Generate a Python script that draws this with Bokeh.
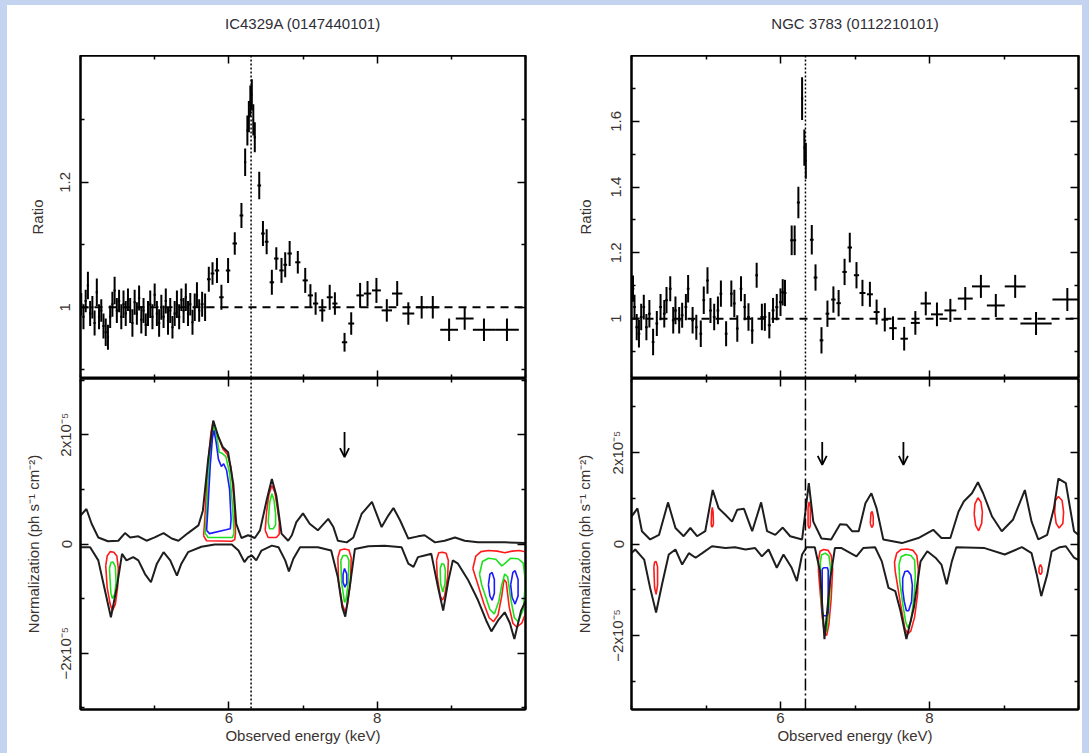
import numpy as np
from bokeh.plotting import figure
from bokeh.models import (FixedTicker, LinearAxis, Span, Arrow, OpenHead, Label,
                          ColumnDataSource, Range1d, CustomJSTickFormatter)
from bokeh.layouts import row, column
from bokeh.embed import file_html
from bokeh.resources import INLINE

# ---------------- data ----------------
titles = ["IC4329A (0147440101)", "NGC 3783 (0112210101)"]
line_energy = [6.30, 6.335]

# IC4329A ratio data
left_e = [4.01, 4.04, 4.07, 4.10, 4.13, 4.16, 4.19, 4.22, 4.25, 4.28, 4.31, 4.34, 4.37, 4.40, 4.43,
          4.46, 4.49, 4.52, 4.55, 4.58, 4.61, 4.64, 4.67, 4.70, 4.73, 4.76, 4.79, 4.82, 4.85, 4.88,
          4.91, 4.94, 4.97, 5.00, 5.03, 5.06, 5.09, 5.12, 5.15, 5.18, 5.21, 5.24, 5.27, 5.30, 5.33,
          5.36, 5.39, 5.42, 5.45, 5.48, 5.51, 5.54, 5.57, 5.60, 5.64, 5.68, 5.73, 5.78, 5.84, 5.90,
          5.99, 6.08, 6.17, 6.22, 6.25, 6.27, 6.29, 6.31, 6.33, 6.35, 6.41, 6.46, 6.51, 6.58, 6.64,
          6.71, 6.76, 6.82, 6.93, 7.03, 7.10, 7.17, 7.26, 7.36, 7.43, 7.56, 7.65, 7.77, 7.87, 7.99,
          8.13, 8.27, 8.42, 8.60, 8.75, 8.97, 9.18, 9.44, 9.75]
left_r = [1.005, 0.985, 1.010, 1.035, 0.990, 1.000, 0.975, 1.024, 0.985, 0.995, 0.970, 0.960, 0.952, 0.985, 1.005,
          1.027, 0.995, 1.010, 0.985, 1.005, 0.990, 1.012, 0.995, 0.975, 1.008, 0.990, 1.015, 0.980, 0.995, 0.972,
          0.990, 1.005, 0.985, 1.020, 0.990, 0.975, 1.000, 0.985, 1.010, 0.978, 0.995, 0.968, 0.990, 1.005, 0.985,
          1.012, 0.995, 1.016, 0.990, 1.005, 0.976, 1.000, 1.020, 0.995, 1.005, 1.000, 1.045, 1.054, 1.059, 1.016,
          1.059, 1.102, 1.147, 1.232, 1.283, 1.305, 1.330, 1.340, 1.300, 1.272, 1.195, 1.118, 1.105, 1.040, 1.078,
          1.059, 1.068, 1.086, 1.072, 1.043, 1.019, 1.006, 0.995, 1.016, 1.006, 0.944, 0.974, 1.019, 1.022, 1.027,
          0.995, 1.022, 0.990, 1.000, 1.000, 0.964, 0.982, 0.964, 0.964]
left_de = [0.015, 0.015, 0.015, 0.015, 0.015, 0.015, 0.015, 0.015, 0.015, 0.015, 0.015, 0.015, 0.015, 0.015, 0.015,
           0.015, 0.015, 0.015, 0.015, 0.015, 0.015, 0.015, 0.015, 0.015, 0.015, 0.015, 0.015, 0.015, 0.015, 0.015,
           0.015, 0.015, 0.015, 0.015, 0.015, 0.015, 0.015, 0.015, 0.015, 0.015, 0.015, 0.015, 0.015, 0.015, 0.015,
           0.015, 0.015, 0.015, 0.015, 0.015, 0.015, 0.015, 0.015, 0.015, 0.02, 0.02, 0.025, 0.025, 0.03, 0.03,
           0.03, 0.03, 0.025, 0.015, 0.012, 0.010, 0.010, 0.010, 0.010, 0.015, 0.025, 0.025, 0.025, 0.03, 0.03,
           0.03, 0.025, 0.03, 0.035, 0.035, 0.035, 0.035, 0.04, 0.04, 0.035, 0.036, 0.04, 0.05, 0.05, 0.06,
           0.07, 0.07, 0.08, 0.08, 0.09, 0.12, 0.12, 0.15, 0.16]
left_dr = [0.018, 0.020, 0.018, 0.022, 0.020, 0.018, 0.020, 0.022, 0.020, 0.018, 0.020, 0.022, 0.020, 0.018, 0.020,
           0.022, 0.020, 0.018, 0.020, 0.022, 0.020, 0.018, 0.020, 0.022, 0.020, 0.018, 0.020, 0.022, 0.020, 0.018,
           0.020, 0.022, 0.020, 0.018, 0.020, 0.022, 0.020, 0.018, 0.020, 0.022, 0.020, 0.018, 0.020, 0.022, 0.020,
           0.018, 0.020, 0.022, 0.020, 0.018, 0.020, 0.022, 0.020, 0.018, 0.020, 0.022, 0.020, 0.018, 0.020, 0.020,
           0.020, 0.018, 0.020, 0.022, 0.024, 0.025, 0.025, 0.025, 0.025, 0.024, 0.022, 0.020, 0.020, 0.020, 0.018,
           0.020, 0.020, 0.020, 0.018, 0.020, 0.018, 0.018, 0.018, 0.020, 0.018, 0.015, 0.018, 0.020, 0.020, 0.020,
           0.018, 0.020, 0.018, 0.018, 0.018, 0.018, 0.018, 0.018, 0.018]

# NGC 3783 ratio data
right_e = [4.02, 4.04, 4.07, 4.10, 4.13, 4.165, 4.20, 4.24, 4.29, 4.34, 4.39, 4.44, 4.47, 4.52, 4.56,
           4.59, 4.64, 4.68, 4.73, 4.76, 4.82, 4.87, 4.93, 4.97, 5.02, 5.06, 5.11, 5.16, 5.20, 5.27,
           5.34, 5.38, 5.42, 5.47, 5.52, 5.57, 5.62, 5.68, 5.75, 5.79, 5.85, 5.90, 5.95, 6.00, 6.03,
           6.06, 6.15, 6.19, 6.24, 6.29, 6.32, 6.34, 6.42, 6.47, 6.55, 6.63, 6.71, 6.78, 6.86, 6.93,
           7.02, 7.10, 7.20, 7.29, 7.40, 7.51, 7.66, 7.81, 7.95, 8.10, 8.28, 8.48, 8.69, 8.89, 9.15,
           9.43, 9.85]
right_r = [1.091, 1.035, 0.974, 0.954, 1.005, 1.035, 0.974, 1.015, 0.929, 0.985, 1.035, 1.015, 1.056, 1.091, 0.995,
           1.025, 0.995, 1.010, 1.035, 1.091, 0.995, 0.974, 0.954, 1.056, 1.116, 1.025, 1.005, 1.025, 1.076, 0.954,
           1.076, 1.046, 0.970, 1.091, 1.035, 1.005, 0.964, 1.132, 1.005, 1.005, 0.980, 1.025, 1.035, 1.050, 1.080,
           1.078, 1.238, 1.238, 1.353, 1.669, 1.520, 1.480, 1.240, 1.125, 0.934, 1.015, 1.058, 1.047, 1.142, 1.216,
           1.132, 1.078, 1.074, 1.020, 0.997, 0.971, 0.939, 0.987, 1.046, 1.013, 1.025, 1.061, 1.098, 1.040, 1.098,
           0.985, 1.058]
right_de = [0.018, 0.018, 0.018, 0.018, 0.018, 0.018, 0.018, 0.018, 0.018, 0.018, 0.018, 0.018, 0.018, 0.018, 0.018,
            0.018, 0.018, 0.018, 0.018, 0.018, 0.018, 0.018, 0.018, 0.018, 0.018, 0.018, 0.018, 0.018, 0.018, 0.018,
            0.018, 0.018, 0.018, 0.018, 0.018, 0.018, 0.018, 0.018, 0.02, 0.02, 0.02, 0.02, 0.02, 0.02, 0.02,
            0.02, 0.02, 0.02, 0.02, 0.015, 0.012, 0.012, 0.025, 0.025, 0.025, 0.025, 0.03, 0.03, 0.03, 0.03,
            0.035, 0.04, 0.04, 0.04, 0.045, 0.05, 0.05, 0.06, 0.07, 0.08, 0.08, 0.10, 0.12, 0.12, 0.14,
            0.21, 0.20]
right_dr = [0.040, 0.038, 0.040, 0.042, 0.040, 0.038, 0.040, 0.042, 0.040, 0.038, 0.040, 0.042, 0.040, 0.038, 0.040,
            0.042, 0.040, 0.038, 0.040, 0.042, 0.040, 0.038, 0.040, 0.042, 0.040, 0.038, 0.040, 0.042, 0.040, 0.038,
            0.040, 0.042, 0.040, 0.038, 0.040, 0.042, 0.040, 0.038, 0.040, 0.042, 0.040, 0.038, 0.040, 0.042, 0.040,
            0.040, 0.045, 0.045, 0.048, 0.065, 0.055, 0.055, 0.045, 0.040, 0.040, 0.040, 0.040, 0.040, 0.040, 0.045,
            0.040, 0.040, 0.038, 0.038, 0.036, 0.036, 0.036, 0.036, 0.036, 0.036, 0.035, 0.035, 0.035, 0.035, 0.035,
            0.035, 0.035]

# Normalization curves, in units of 1e-5 ph s^-1 cm^-2
lu_e = [4.00, 4.08, 4.15, 4.24, 4.37, 4.51, 4.60, 4.67, 4.78, 4.89, 5.00, 5.12, 5.23, 5.32, 5.45, 5.59, 5.65,
        5.72, 5.79, 5.86, 5.92, 5.99, 6.06, 6.10, 6.17, 6.26, 6.35, 6.42, 6.51, 6.58, 6.64, 6.71, 6.80, 6.85,
        6.91, 7.00, 7.09, 7.20, 7.34, 7.41, 7.47, 7.59, 7.68, 7.79, 7.93, 8.06, 8.15, 8.22, 8.31, 8.42, 8.55,
        8.64, 8.78, 8.91, 9.05, 9.18, 9.36, 9.72, 10.0]
lu_n = [0.52, 0.64, 0.37, 0.12, 0.05, 0.06, 0.20, 0.12, 0.14, 0.06, 0.12, 0.20, 0.10, 0.06, 0.20, 0.34, 0.61,
        1.53, 2.26, 1.96, 1.77, 1.68, 1.10, 0.37, 0.11, 0.16, 0.11, 0.25, 0.80, 1.19, 0.89, 0.19, 0.06, 0.16,
        0.40, 0.56, 0.37, 0.25, 0.46, 0.31, 0.06, 0.03, 0.12, 0.55, 0.77, 0.31, 0.52, 0.66, 0.43, 0.10, 0.14,
        0.16, 0.03, 0.06, 0.12, 0.06, 0.03, 0.03, 0.02]
ll_e = [4.00, 4.13, 4.24, 4.33, 4.41, 4.49, 4.56, 4.62, 4.71, 4.78, 4.87, 4.95, 5.03, 5.12, 5.21, 5.30, 5.36,
        5.45, 5.63, 5.81, 6.04, 6.13, 6.21, 6.26, 6.31, 6.37, 6.44, 6.58, 6.67, 6.76, 6.81, 6.87, 6.96, 7.20,
        7.38, 7.47, 7.53, 7.57, 7.63, 7.70, 7.88, 8.10, 8.33, 8.42, 8.49, 8.55, 8.64, 8.73, 8.82, 8.89, 8.96,
        9.02, 9.09, 9.23, 9.36, 9.47, 9.54, 9.63, 9.72, 9.79, 9.85, 9.94, 10.0]
ll_n = [-0.06, -0.06, -0.30, -0.85, -1.34, -0.79, -0.18, -0.30, -0.24, -0.30, -0.55, -0.70, -0.36, -0.15, -0.30,
        -0.58, -0.36, -0.15, -0.05, -0.01, -0.01, -0.12, -0.33, -0.24, -0.21, -0.30, -0.12, -0.03, -0.06, -0.30,
        -0.50, -0.27, -0.06, -0.06, -0.12, -0.61, -1.16, -1.33, -0.79, -0.09, -0.04, -0.03, -0.06, -0.36, -0.42,
        -0.24, -0.21, -0.18, -0.79, -1.22, -0.67, -0.30, -0.36, -0.67, -1.03, -1.40, -1.60, -1.40, -1.25, -1.45,
        -1.74, -1.22, -1.05]
ru_e = [4.00, 4.08, 4.14, 4.25, 4.37, 4.49, 4.59, 4.70, 4.79, 4.88, 4.99, 5.09, 5.17, 5.26, 5.35, 5.42, 5.51,
        5.62, 5.74, 5.82, 5.93, 6.03, 6.13, 6.29, 6.38, 6.44, 6.55, 6.68, 6.80, 6.89, 6.96, 7.05, 7.14, 7.22,
        7.29, 7.38, 7.63, 7.85, 8.05, 8.16, 8.28, 8.39, 8.46, 8.57, 8.65, 8.72, 8.84, 8.97, 9.12, 9.28, 9.37,
        9.46, 9.58, 9.67, 9.73, 9.83, 9.94, 10.0]
ru_n = [0.60, 0.78, 0.28, 0.10, 0.20, 0.91, 0.35, 0.17, 0.35, 0.17, 0.28, 1.18, 0.78, 0.64, 0.49, 0.75, 0.77,
        0.28, 0.91, 0.28, 0.20, 0.36, 0.17, 0.10, 1.33, 0.49, 0.12, 0.10, 0.43, 0.42, 0.28, 0.28, 0.89, 1.11,
        0.78, 0.10, 0.02, 0.13, 0.31, 0.13, 0.13, 0.71, 0.93, 1.11, 1.35, 1.11, 0.60, 0.28, 0.53, 1.18, 0.49,
        0.10, 0.20, 0.78, 1.43, 1.33, 0.28, 0.20]
rl_e = [4.00, 4.05, 4.17, 4.25, 4.33, 4.41, 4.50, 4.59, 4.68, 4.77, 4.86, 4.95, 5.08, 5.26, 5.39, 5.53, 5.66,
        5.75, 5.84, 5.95, 6.04, 6.15, 6.22, 6.29, 6.35, 6.46, 6.53, 6.59, 6.67, 6.73, 6.82, 6.94, 7.02, 7.11,
        7.27, 7.36, 7.45, 7.54, 7.61, 7.69, 7.79, 7.88, 7.97, 8.08, 8.16, 8.23, 8.30, 8.36, 8.74, 9.01, 9.24,
        9.37, 9.44, 9.50, 9.58, 9.64, 9.75, 9.83, 9.94, 10.0]
rl_n = [-0.20, -0.12, -0.34, -0.96, -1.50, -0.88, -0.23, -0.12, -0.45, -0.20, -0.30, -0.20, -0.05, -0.09, -0.07,
        -0.12, -0.09, -0.27, -0.12, -0.52, -0.23, -0.52, -0.81, -0.23, -0.07, -0.07, -0.59, -2.08, -0.74, -0.09,
        -0.09, -0.20, -0.27, -0.09, -0.07, -0.38, -0.96, -1.03, -1.46, -2.08, -1.39, -0.38, -0.16, -0.30, -0.45,
        -0.88, -0.38, -0.07, -0.09, -0.23, -0.07, -0.20, -0.67, -1.14, -0.67, -0.16, -0.07, -0.05, -0.30, -0.35]

# Confidence contours (closed loops), energy (keV) / normalization (1e-5)
left_red = [
    ([5.66, 5.68, 5.72, 5.76, 5.79, 5.83, 5.87, 5.92, 5.98, 6.03, 6.07, 6.09, 6.08, 6.04, 5.70],
     [0.15, 0.55, 1.50, 2.05, 2.24, 2.05, 1.92, 1.74, 1.64, 1.40, 0.80, 0.20, 0.08, 0.05, 0.06]),
    ([6.49, 6.51, 6.54, 6.58, 6.62, 6.65, 6.68, 6.68, 6.64, 6.53],
     [0.25, 0.60, 0.90, 1.07, 0.95, 0.70, 0.40, 0.18, 0.12, 0.12]),
    ([4.34, 4.36, 4.40, 4.45, 4.49, 4.51, 4.50, 4.47, 4.43, 4.40, 4.36],
     [-0.40, -0.22, -0.14, -0.15, -0.22, -0.45, -0.80, -1.10, -1.22, -1.10, -0.80]),
    ([7.47, 7.50, 7.56, 7.62, 7.65, 7.64, 7.60, 7.57, 7.53, 7.48],
     [-0.25, -0.11, -0.09, -0.11, -0.25, -0.70, -1.10, -1.25, -1.10, -0.70]),
    ([8.80, 8.83, 8.88, 8.93, 8.96, 8.95, 8.91, 8.88, 8.85, 8.81],
     [-0.30, -0.16, -0.15, -0.17, -0.30, -0.60, -0.95, -1.03, -0.95, -0.60]),
    ([9.29, 9.33, 9.40, 9.50, 9.62, 9.72, 9.82, 9.92, 10.02, 10.04, 10.02, 9.95, 9.88, 9.83, 9.78, 9.74,
      9.71, 9.68, 9.63, 9.57, 9.51, 9.44, 9.36],
     [-0.45, -0.22, -0.14, -0.12, -0.13, -0.16, -0.13, -0.12, -0.15, -0.60, -1.20, -1.45, -1.52, -1.45, -1.15,
      -0.70, -0.65, -0.95, -1.30, -1.42, -1.35, -1.10, -0.75]),
]
left_green = [
    ([5.68, 5.70, 5.73, 5.77, 5.80, 5.84, 5.87, 5.91, 5.96, 6.01, 6.05, 6.07, 6.05, 5.72],
     [0.20, 0.60, 1.45, 2.00, 2.17, 1.95, 1.68, 1.66, 1.60, 1.30, 0.70, 0.20, 0.12, 0.12]),
    ([6.53, 6.55, 6.58, 6.61, 6.63, 6.63, 6.60, 6.55],
     [0.40, 0.75, 0.92, 0.80, 0.55, 0.35, 0.28, 0.28]),
    ([4.39, 4.41, 4.44, 4.47, 4.48, 4.46, 4.43, 4.41],
     [-0.45, -0.34, -0.33, -0.42, -0.70, -0.92, -1.00, -0.90]),
    ([7.51, 7.54, 7.59, 7.62, 7.61, 7.58, 7.56, 7.52],
     [-0.30, -0.21, -0.21, -0.30, -0.70, -1.02, -1.07, -0.70]),
    ([8.85, 8.87, 8.90, 8.92, 8.915, 8.885, 8.855],
     [-0.45, -0.36, -0.37, -0.48, -0.72, -0.88, -0.72]),
    ([9.38, 9.42, 9.50, 9.60, 9.68, 9.72, 9.80, 9.90, 9.97, 10.0, 9.97, 9.90, 9.85, 9.80, 9.76, 9.72, 9.68,
      9.64, 9.58, 9.52, 9.46, 9.41],
     [-0.55, -0.32, -0.26, -0.28, -0.40, -0.36, -0.26, -0.27, -0.35, -0.70, -1.20, -1.42, -1.35, -1.00, -0.60,
      -0.55, -0.75, -1.05, -1.28, -1.20, -0.95, -0.75]),
]
left_blue = [
    ([5.70, 5.72, 5.75, 5.78, 5.80, 5.83, 5.86, 5.90, 5.93, 5.97, 6.01, 6.03, 6.02, 5.96, 5.74],
     [0.25, 0.70, 1.45, 1.95, 2.08, 1.85, 1.55, 1.42, 1.47, 1.35, 1.00, 0.45, 0.28, 0.26, 0.19]),
    ([7.54, 7.56, 7.59, 7.59, 7.565, 7.54],
     [-0.55, -0.45, -0.55, -0.72, -0.79, -0.70]),
    ([9.50, 9.52, 9.55, 9.58, 9.58, 9.55, 9.52],
     [-0.75, -0.55, -0.52, -0.65, -0.90, -1.03, -0.95]),
    ([9.80, 9.83, 9.86, 9.90, 9.90, 9.86, 9.82],
     [-0.75, -0.52, -0.49, -0.65, -0.95, -1.10, -0.98]),
]
right_red = [
    ([5.07, 5.075, 5.085, 5.095, 5.10, 5.09, 5.075], [0.45, 0.70, 0.80, 0.70, 0.45, 0.38, 0.38]),
    ([6.37, 6.37, 6.385, 6.40, 6.40, 6.385], [0.40, 0.80, 0.92, 0.80, 0.40, 0.34]),
    ([4.30, 4.31, 4.33, 4.35, 4.35, 4.33, 4.31], [-0.50, -0.40, -0.38, -0.50, -0.90, -1.10, -0.95]),
    ([7.205, 7.215, 7.23, 7.245, 7.245, 7.225], [0.45, 0.68, 0.71, 0.60, 0.42, 0.36]),
    ([8.60, 8.61, 8.65, 8.69, 8.71, 8.70, 8.66, 8.62], [0.65, 0.88, 1.01, 0.92, 0.70, 0.45, 0.29, 0.40]),
    ([9.68, 9.69, 9.73, 9.78, 9.80, 9.79, 9.74, 9.70], [0.70, 0.95, 1.04, 0.95, 0.70, 0.45, 0.35, 0.45]),
    ([9.47, 9.49, 9.51, 9.51, 9.49, 9.47], [-0.52, -0.45, -0.52, -0.62, -0.67, -0.62]),
    ([6.51, 6.53, 6.58, 6.64, 6.68, 6.70, 6.68, 6.65, 6.62, 6.59, 6.56, 6.53, 6.51],
     [-0.35, -0.16, -0.12, -0.14, -0.25, -0.55, -1.20, -1.75, -2.00, -1.95, -1.60, -1.00, -0.60]),
    ([7.53, 7.56, 7.62, 7.70, 7.78, 7.83, 7.85, 7.84, 7.80, 7.75, 7.71, 7.67, 7.62, 7.57, 7.54],
     [-0.40, -0.20, -0.12, -0.11, -0.14, -0.25, -0.55, -1.10, -1.60, -1.90, -1.97, -1.85, -1.40, -0.90, -0.60]),
]
right_green = [
    ([6.535, 6.55, 6.60, 6.65, 6.67, 6.66, 6.63, 6.61, 6.58, 6.55, 6.54],
     [-0.40, -0.24, -0.20, -0.26, -0.50, -1.20, -1.75, -1.93, -1.80, -1.30, -0.80]),
    ([7.59, 7.62, 7.68, 7.75, 7.80, 7.81, 7.79, 7.75, 7.71, 7.68, 7.64, 7.60],
     [-0.45, -0.28, -0.23, -0.25, -0.35, -0.70, -1.20, -1.70, -1.83, -1.70, -1.30, -0.80]),
]
right_blue = [
    ([6.56, 6.58, 6.63, 6.64, 6.64, 6.62, 6.58, 6.56],
     [-0.55, -0.52, -0.52, -0.58, -1.50, -1.57, -1.57, -1.50]),
    ([7.64, 7.67, 7.71, 7.75, 7.77, 7.76, 7.72, 7.69, 7.66, 7.64],
     [-0.75, -0.60, -0.59, -0.68, -0.90, -1.25, -1.46, -1.46, -1.25, -1.00]),
]

left_arrows_e = [7.56]
right_arrows_e = [6.56, 7.65]
left_arrow_y = (2.05, 1.59)
right_arrow_y = (2.23, 1.73)

# ---------------- styling helpers ----------------
FONT = "Liberation Sans"
TXT = "#3a3330"
BG = "#c4d3f0"
T, L, R = 5, 7, 7
PAGE_W, PAGE_H = 1089, 753
TITLE_H = 50          # height of the strip that holds each panel title
TITLE_FROM_TOP = 18   # title centre below the top of that strip


def style_axis(ax, ticks, minor, labels=True, overrides=None, orient="horizontal"):
    ax.ticker = FixedTicker(ticks=ticks, minor_ticks=minor)
    ax.major_tick_in = 8
    ax.major_tick_out = 0
    ax.minor_tick_in = 4
    ax.minor_tick_out = 0
    ax.axis_line_width = 2
    ax.axis_line_color = "black"
    ax.major_tick_line_width = 1.5
    ax.minor_tick_line_width = 1.5
    ax.major_tick_line_color = "black"
    ax.minor_tick_line_color = "black"
    ax.major_label_text_font = FONT
    ax.axis_label_text_font = FONT
    ax.axis_label_text_color = TXT
    ax.axis_label_text_font_style = "normal"
    ax.axis_label_text_font_size = "15px"
    if labels:
        ax.major_label_text_color = TXT
        ax.major_label_text_font_size = "15px"
        if overrides:
            ax.major_label_overrides = overrides
        ax.major_label_orientation = orient
    else:
        # tick marks only: the labels are not drawn at all
        ax.major_label_text_font_size = "0px"
        ax.major_label_text_color = None
        ax.major_label_text_alpha = 0
        ax.major_label_standoff = 0


def make_fig(xr, yr, fw, fh, mb, margin):
    p = figure(frame_width=fw, frame_height=fh, x_range=Range1d(*xr), y_range=Range1d(*yr),
               output_backend="svg", toolbar_location=None, tools="",
               min_border_left=mb[0], min_border_right=mb[1], min_border_top=mb[2],
               min_border_bottom=mb[3], margin=margin)
    p.grid.visible = False
    p.background_fill_color = "white"
    p.border_fill_color = "white"
    p.outline_line_color = "black"
    p.outline_line_width = 2
    return p


def title_strip(text, fw, mb, margin):
    width = mb[0] + fw + mb[1]
    t = figure(width=width, height=TITLE_H, x_range=Range1d(0, width), y_range=Range1d(0, TITLE_H),
               x_axis_location=None, y_axis_location=None, output_backend="svg",
               toolbar_location=None, tools="", min_border=0, margin=margin)
    t.grid.visible = False
    t.outline_line_color = None
    t.background_fill_color = "white"
    t.border_fill_color = "white"
    t.add_layout(Label(x=mb[0] + fw / 2, y=TITLE_H - TITLE_FROM_TOP, text=text,
                       text_align="center", text_baseline="middle", text_font=FONT,
                       text_font_size="15px", text_color="#2e2e36"))
    return t


def ratio_panel(e, r, de, dr, yr, ticks, minor, fw, mb, margin, eline, lab_stand, ax_stand):
    p = make_fig((4, 10), yr, fw, 323, mb, margin)
    e = np.array(e); r = np.array(r); de = np.array(de); dr = np.array(dr)
    src = ColumnDataSource(dict(x0=e - de, x1=e + de, y=r, e=e, y0=r - dr, y1=r + dr))
    p.add_layout(Span(location=1.0, dimension="width", line_color="black", line_width=2, line_dash="8 6"))
    p.add_layout(Span(location=eline, dimension="height", line_color="black", line_width=1.5,
                      line_dash="2 2"))
    p.segment(x0="x0", y0="y", x1="x1", y1="y", source=src, line_color="black", line_width=2)
    p.segment(x0="e", y0="y0", x1="e", y1="y1", source=src, line_color="black", line_width=2)
    style_axis(p.xaxis[0], [6, 8], [4, 5, 7, 9, 10], labels=False)
    style_axis(p.yaxis[0], ticks, minor, labels=True, orient="vertical")
    p.yaxis[0].formatter = CustomJSTickFormatter(code="return String(Math.round(tick*10)/10);")
    p.yaxis[0].major_label_standoff = lab_stand
    p.yaxis[0].axis_label = "Ratio"
    p.yaxis[0].axis_label_standoff = ax_stand
    top = LinearAxis(); style_axis(top, [6, 8], [4, 5, 7, 9, 10], labels=False)
    right = LinearAxis(); style_axis(right, ticks, minor, labels=False)
    p.add_layout(top, "above")
    p.add_layout(right, "right")
    return p


def norm_panel(ue, un, le, ln, reds, greens, blues, arrows_e, arrow_y, yr, fw, mb, margin, eline,
               edash, lab_stand, ax_stand):
    p = make_fig((4, 10), yr, fw, 331, mb, margin)
    p.add_layout(Span(location=eline, dimension="height", line_color="black", line_width=1.5,
                      line_dash=edash))
    for loops, col in ((reds, "#ff1a1a"), (greens, "#1ee01e"), (blues, "#1a1aff")):
        xs = [list(lx) + [lx[0]] for lx, ly in loops]
        ys = [list(ly) + [ly[0]] for lx, ly in loops]
        p.multi_line(xs=xs, ys=ys, line_color=col, line_width=1.6)
    p.line(ue, un, line_color="#1e1e1e", line_width=2)
    p.line(le, ln, line_color="#1e1e1e", line_width=2)
    asrc = ColumnDataSource(dict(x=arrows_e, y0=[arrow_y[0]] * len(arrows_e),
                                 y1=[arrow_y[1]] * len(arrows_e)))
    p.add_layout(Arrow(end=OpenHead(size=9, line_width=1.8, line_color="black"),
                       x_start="x", y_start="y0", x_end="x", y_end="y1", source=asrc,
                       line_width=1.8, line_color="black"))
    style_axis(p.xaxis[0], [6, 8], [4, 5, 7, 9, 10], labels=True)
    p.xaxis[0].major_label_standoff = 3
    p.xaxis[0].axis_label = "Observed energy (keV)"
    p.xaxis[0].axis_label_standoff = 1
    style_axis(p.yaxis[0], [-2, 0, 2], [-3, -1, 1, 3], labels=True,
               overrides={-2: "\u22122x10\u207b\u2075", 0: "0", 2: "2x10\u207b\u2075"},
               orient="vertical")
    p.yaxis[0].major_label_standoff = lab_stand
    p.yaxis[0].axis_label = "Normalization (ph s\u207b\u00b9 cm\u207b\u00b2)"
    p.yaxis[0].axis_label_standoff = ax_stand
    top = LinearAxis(); style_axis(top, [6, 8], [4, 5, 7, 9, 10], labels=False)
    right = LinearAxis(); style_axis(right, [-2, 0, 2], [-3, -1, 1, 3], labels=False)
    p.add_layout(top, "above")
    p.add_layout(right, "right")
    return p


MB_L = (73, 20)
MB_R = (86, 4)
t1 = title_strip(titles[0], 445, MB_L, (T, 0, 0, L))
t2 = title_strip(titles[1], 447, MB_R, (T, R, 0, 0))
p1 = ratio_panel(left_e, left_r, left_de, left_dr, (0.886, 1.403), [1.0, 1.2], [0.9, 1.1, 1.3],
                 445, (MB_L[0], MB_L[1], 0, 0), (0, 0, 0, L), line_energy[0], 10, 12)
p2 = ratio_panel(right_e, right_r, right_de, right_dr, (0.818, 1.80), [1.0, 1.2, 1.4, 1.6],
                 [0.9, 1.1, 1.3, 1.5, 1.7], 447, (MB_R[0], MB_R[1], 0, 0), (0, R, 0, 0),
                 line_energy[1], 10, 15)
p3 = norm_panel(lu_e, lu_n, ll_e, ll_n, left_red, left_green, left_blue, left_arrows_e, left_arrow_y,
                (-3.03, 3.03), 445, (MB_L[0], MB_L[1], 0, 44), (0, 0, 0, L), line_energy[0], "2 2", 6, 13)
p4 = norm_panel(ru_e, ru_n, rl_e, rl_n, right_red, right_green, right_blue, right_arrows_e,
                right_arrow_y, (-3.62, 3.62), 447, (MB_R[0], MB_R[1], 0, 44), (0, R, 0, 0),
                line_energy[1], "12 3 2 3", 5, 14)

# light-blue page with a white sheet behind the panels
sheet = (f"linear-gradient(#ffffff, #ffffff) {L}px {T}px / {PAGE_W - L - R}px {PAGE_H - T}px no-repeat, "
         f"{BG}")
layout = column(row(t1, t2, spacing=0), row(p1, p2, spacing=0), row(p3, p4, spacing=0), spacing=0,
                styles={"background": sheet})

open("out.html", "w").write(file_html(layout, INLINE))
